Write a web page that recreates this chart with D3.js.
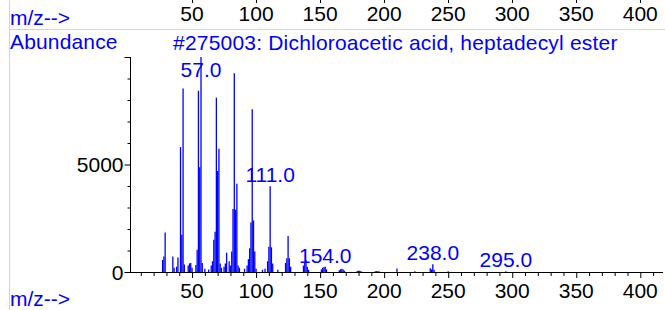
<!DOCTYPE html>
<html><head><meta charset="utf-8">
<script src="https://cdn.jsdelivr.net/npm/d3@7"></script>
<style>
html,body{margin:0;padding:0;background:#fff;}
svg{display:block;font-family:"Liberation Sans",Arial,sans-serif;}
</style></head>
<body><svg id="c" width="665" height="310"></svg>
<script>
const mz = [27,28,29,35,36,38,39,41,42,43,44,47,48,49,50,53,54,55,56,57,58,60,63,65,66,67,68,69,70,71,72,73,75,76,77,79,80,81,82,83,84,85,86,87,91,93,94,95,96,97,98,99,100,105,107,109,110,111,112,113,117,123,124,125,126,127,137,138,139,140,141,151,152,153,154,155,165,166,167,168,169,179,180,181,182,193,194,195,196,210,224,236,237,238,239,250,295];
const abundance = [560,720,1840,720,200,250,670,5810,1730,8540,350,300,400,420,200,330,1030,8430,4870,10000,420,150,120,300,500,1500,1870,8110,4700,5730,400,200,250,400,900,500,300,950,2930,9250,2900,4100,300,200,150,300,600,1100,2300,7570,2400,950,150,100,150,500,1180,3990,1150,400,100,420,640,1680,640,250,300,450,550,250,100,120,200,230,240,120,80,130,150,120,60,50,60,60,40,40,40,40,30,160,30,170,120,360,100,30,40];
const labeledPeaks = [57,111,154,238,295];
const xTicksMajor = [50,100,150,200,250,300,350,400];
const yTicksMajor = [0,5000];
const title = "#275003: Dichloroacetic acid, heptadecyl ester";

const svg = d3.select("#c");
const blue = "#0000ff", green = "#aaf0aa";
const FS = 21;
const x = d3.scaleLinear().domain([0,400]).range([128,640.3]);
const y = d3.scaleLinear().domain([0,10000]).range([272,57]);

// frame lines
svg.append("line").attr("x1",9.5).attr("x2",9.5).attr("y1",0).attr("y2",310).attr("stroke",green);
svg.append("line").attr("x1",9).attr("x2",665).attr("y1",29.5).attr("y2",29.5).attr("stroke",green);

// top (previous panel) axis labels
const topG = svg.append("g");
topG.selectAll("text").data(xTicksMajor).join("text")
  .attr("x",d=>x(d)).attr("y",21).attr("text-anchor","middle")
  .attr("font-size",FS).attr("fill","#000").text(d=>d);
topG.selectAll("line").data(xTicksMajor).join("line")
  .attr("x1",d=>Math.round(x(d))+0.5).attr("x2",d=>Math.round(x(d))+0.5)
  .attr("y1",0).attr("y2",3).attr("stroke","#000");
svg.append("text").attr("x",10).attr("y",25).attr("font-size",FS).attr("fill",blue).text("m/z-->");
svg.append("text").attr("x",10).attr("y",49).attr("font-size",FS).attr("fill",blue).attr("letter-spacing",0.15).text("Abundance");
svg.append("text").attr("x",173).attr("y",50).attr("font-size",FS).attr("fill",blue).attr("letter-spacing",0.2).text(title);

// peaks
const peaks = mz.map((m,i)=>({m, v:abundance[i]}));
svg.append("g").selectAll("line").data(peaks).join("line")
  .attr("x1",d=>x(d.m)).attr("x2",d=>x(d.m))
  .attr("y1",y(0)).attr("y2",d=>y(d.v))
  .attr("stroke",blue).attr("stroke-width",1.3);

// axes
const xAxis = d3.axisBottom(x).tickValues(d3.range(10,420,10)).tickSize(4).tickFormat("");
const gx = svg.append("g").attr("transform","translate(0,272)").call(xAxis);
gx.select(".domain").remove();
gx.selectAll(".tick line").attr("y2",d=>d%50===0?6:4).attr("stroke","#000");
gx.append("line").attr("x1",130).attr("x2",663).attr("y1",0.5).attr("y2",0.5).attr("stroke","#000");
gx.selectAll(".lbl").data(xTicksMajor).join("text").attr("class","lbl")
  .attr("x",d=>x(d)).attr("y",26).attr("text-anchor","middle")
  .attr("font-size",FS).attr("fill","#000").text(d=>d);

const yAxis = d3.axisLeft(y).tickValues(d3.range(0,10001,1000)).tickSize(3).tickFormat("");
const gy = svg.append("g").attr("transform","translate(130.5,0)").call(yAxis);
gy.select(".domain").remove();
gy.selectAll(".tick line").attr("x2",d=>d%5000===0?-6:-3).attr("stroke","#000");
gy.append("line").attr("x1",0).attr("x2",0).attr("y1",57).attr("y2",272.5).attr("stroke","#000");
gy.selectAll(".lbl").data(yTicksMajor).join("text").attr("class","lbl")
  .attr("x",-7).attr("y",d=>y(d)+7.5).attr("text-anchor","end")
  .attr("font-size",FS).attr("fill","#000").text(d=>d);

svg.append("text").attr("x",10).attr("y",306).attr("font-size",FS).attr("fill",blue).text("m/z-->");

// peak labels
svg.append("g").selectAll("text").data(peaks.filter(p=>labeledPeaks.includes(p.m))).join("text")
  .attr("x",d=>x(d.m)).attr("y",d=>Math.max(y(d.v)-4,77))
  .attr("text-anchor","middle").attr("font-size",FS).attr("fill",blue)
  .text(d=>d.m.toFixed(1));
</script></body></html>
